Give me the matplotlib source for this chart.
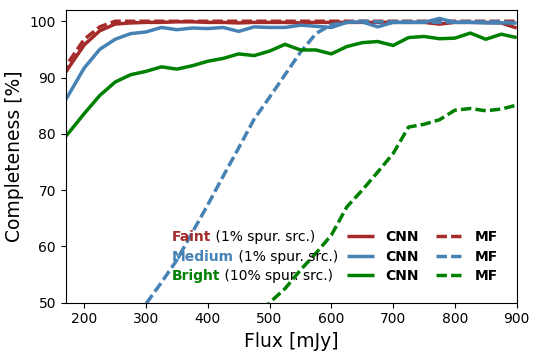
import numpy as np
import matplotlib
matplotlib.use("Agg")
import matplotlib.pyplot as plt

flux = [150, 175, 200, 225, 250, 275, 300, 325, 350, 375, 400, 425, 450, 475, 500,
        525, 550, 575, 600, 625, 650, 675, 700, 725, 750, 775, 800, 825, 850, 875, 900]

faint_cnn = [87.5, 91.8, 95.8, 98.3, 99.5, 99.7, 99.8, 99.8, 99.9, 99.9, 99.8, 99.8, 99.7, 99.8, 99.8,
             99.8, 99.7, 99.8, 99.8, 99.8, 99.8, 99.8, 99.8, 99.8, 99.8, 99.5, 99.8, 99.8, 99.8, 99.7, 98.8]
faint_mf = [88.5, 92.8, 96.8, 99.0, 100.0, 100.0, 100.0, 100.0, 100.0, 100.0, 100.0, 100.0, 100.0, 100.0, 100.0,
            100.0, 100.0, 100.0, 100.0, 100.0, 100.0, 100.0, 100.0, 100.0, 100.0, 100.0, 100.0, 100.0, 100.0, 100.0, 100.0]
medium_cnn = [82.5, 87.0, 91.7, 95.0, 96.8, 97.8, 98.1, 98.9, 98.5, 98.8, 98.7, 98.9, 98.2, 99.0, 98.9,
              98.9, 99.3, 99.1, 98.9, 99.8, 99.9, 99.0, 99.8, 99.8, 99.8, 100.5, 99.8, 99.8, 99.7, 99.7, 99.7]
medium_mf = [np.nan, np.nan, np.nan, np.nan, np.nan, 45.5, 49.8, 53.6, 57.6, 62.5, 67.4, 72.5, 77.5, 82.6, 86.5,
             90.5, 94.5, 97.8, 99.4, 99.8, 100.0, 99.9, 99.9, 99.9, 99.9, 99.8, 99.9, 99.9, 99.9, 99.9, 99.7]
bright_cnn = [77.0, 80.2, 83.6, 86.8, 89.2, 90.5, 91.1, 91.9, 91.5, 92.1, 92.9, 93.4, 94.2, 93.9, 94.7,
              95.9, 94.9, 94.9, 94.2, 95.5, 96.2, 96.4, 95.7, 97.1, 97.3, 96.9, 97.0, 97.9, 96.8, 97.7, 97.1]
bright_mf = [np.nan, np.nan, np.nan, np.nan, np.nan, np.nan, np.nan, np.nan, np.nan, np.nan, np.nan, np.nan, np.nan, 46.5, 50.0,
             52.5, 55.8, 58.8, 62.0, 67.0, 70.0, 73.2, 76.5, 81.2, 81.7, 82.5, 84.2, 84.5, 84.1, 84.4, 85.1]

names = ["Faint", "Medium", "Bright"]
notes = [" (1% spur. src.)", " (1% spur. src.)", " (10% spur. src.)"]
colors = ["#a52a2a", "#4682b4", "#008000"]

fig = plt.figure(figsize=(5.43, 3.52), dpi=100)
ax = fig.add_axes([0.121, 0.140, 0.8305, 0.8316])

lw = 2.5
cnn_handles, mf_handles = [], []
for cnn, mf, c in zip([faint_cnn, medium_cnn, bright_cnn], [faint_mf, medium_mf, bright_mf], colors):
    h1, = ax.plot(flux, cnn, color=c, lw=lw, solid_capstyle='butt')
    h2, = ax.plot(flux, mf, color=c, lw=lw, ls='--', dashes=(3.0, 1.2))
    cnn_handles.append(h1)
    mf_handles.append(h2)

ax.set_xlim(170, 900)
ax.set_ylim(50, 102)
ax.set_xticks([200, 300, 400, 500, 600, 700, 800, 900])
ax.set_yticks([50, 60, 70, 80, 90, 100])
ax.tick_params(labelsize=10)
ax.set_xlabel("Flux [mJy]", fontsize=13.5)
ax.set_ylabel("Completeness [%]", fontsize=13.5)

leg = ax.legend(cnn_handles + mf_handles, ["CNN"] * 3 + ["MF"] * 3, ncol=2,
                loc="center left", bbox_to_anchor=(0.6106, 0.157), frameon=False,
                borderaxespad=0, prop={'weight': 'bold', 'size': 10},
                labelspacing=0.4, columnspacing=1.2, handlelength=2.0)

ys = [0.2255, 0.157, 0.0912]
for name, note, c, y in zip(names, notes, colors, ys):
    t = ax.text(0.2357, y, name, transform=ax.transAxes, color=c, fontsize=10,
                fontweight='bold', va='center', ha='left')
    ax.annotate(note, xy=(1, 0.5), xycoords=t, va='center', ha='left', fontsize=10,
                color='black')

fig.savefig("out.png", dpi=100)
